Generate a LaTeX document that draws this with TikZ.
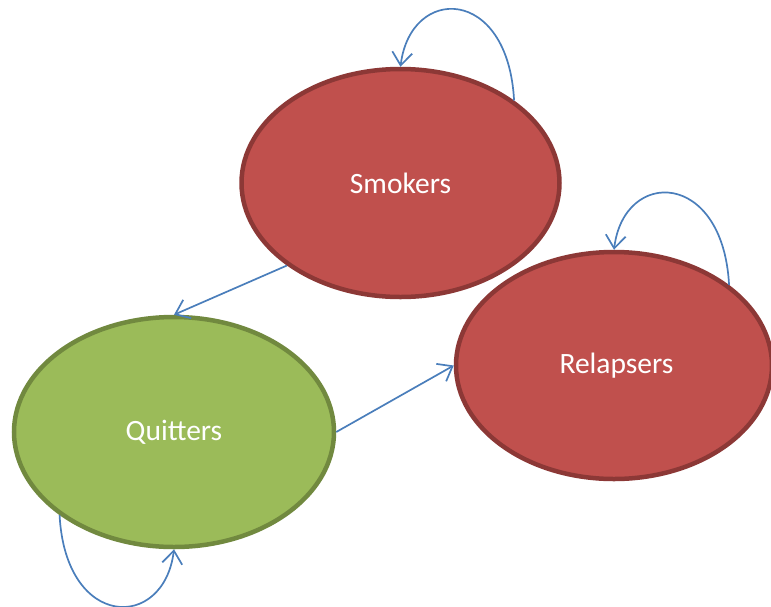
\documentclass[tikz,border=0pt]{standalone}
\usepackage{fontspec}
\setmainfont{Carlito}
\usetikzlibrary{shapes.geometric,arrows.meta,calc}
\definecolor{redfill}{HTML}{C0504D}
\definecolor{redline}{HTML}{8C3836}
\definecolor{greenfill}{HTML}{9BBB59}
\definecolor{greenline}{HTML}{71893F}
\definecolor{linkblue}{HTML}{4A7EBB}
\tikzset{
  state/.style={ellipse, draw, line width=4.5pt, inner sep=0pt,
    text=white, font=\fontsize{29.5}{34}\selectfont},
  redstate/.style={state, fill=redfill, draw=redline},
  greenstate/.style={state, fill=greenfill, draw=greenline},
  conn/.style={draw=linkblue, line width=1.7pt,
    -{Straight Barb[length=13pt,width=20pt,line width=1.7pt]}}
}
\begin{document}
\begin{tikzpicture}[x=1pt,y=-1pt]
  \useasboundingbox (0,0) rectangle (771,606);
  % states
  \node[redstate, minimum width=318pt, minimum height=228pt] (s) at (400.5,183) {Smokers};
  \node[greenstate, minimum width=320pt, minimum height=230pt] (q) at (174,432) {Quitters};
  \node[redstate, minimum width=316pt, minimum height=227pt] (r) at (614,365.5) {\hspace{5pt}Relapsers};
  % transitions between states
  \draw[conn] (s.216) -- (q.90);
  \draw[conn] (q.0) -- (r.180);
  % self loops
  \draw[conn] (s.36) .. controls ($(s.36)+(-6,-115)$) and ($(s.90)+(10,-82)$) .. (s.90);
  \draw[conn] (r.35) .. controls ($(r.35)+(-6,-115)$) and ($(r.90)+(10,-82)$) .. (r.90);
  \draw[conn] (q.216) .. controls ($(q.216)+(6,115)$) and ($(q.270)+(-10,82)$) .. (q.270);
\end{tikzpicture}
\end{document}
